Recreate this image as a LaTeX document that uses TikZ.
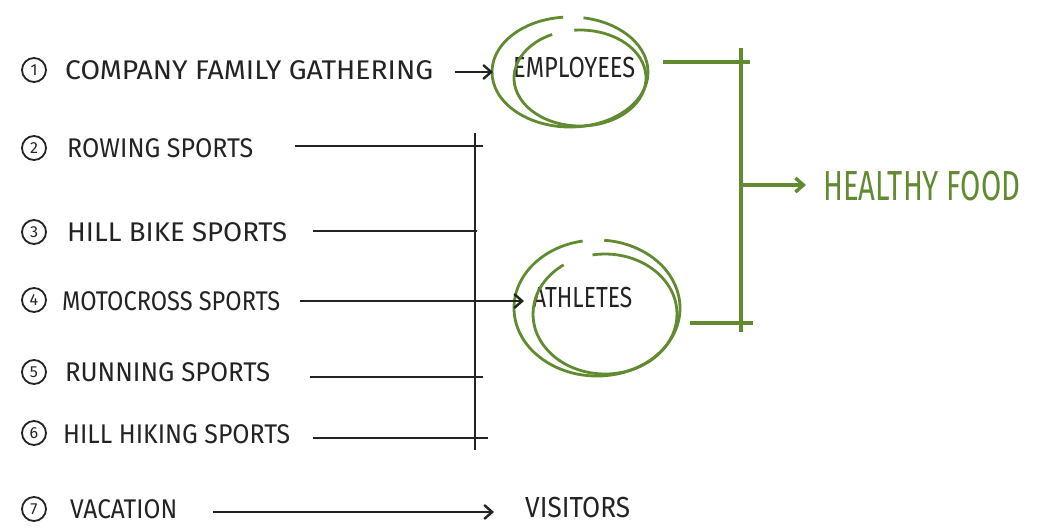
\documentclass[tikz,border=0pt]{standalone}
\usepackage{fontspec}
\setmainfont{Fira Sans}
\usepackage{graphicx}
\usetikzlibrary{arrows.meta}
\definecolor{leaf}{RGB}{98,138,48}
\definecolor{pen}{RGB}{35,35,35}
% set a label to a given width while keeping its natural height
\newcommand\fitw[2]{\resizebox{#1}{\height}{#2}}
\begin{document}
\begin{tikzpicture}[x=1pt,y=-1pt,
  item/.style={anchor=west, inner sep=0pt, text=pen, font=\fontsize{27}{28}\selectfont},
  num/.style={circle, draw=pen, line width=1.8pt, inner sep=0pt, minimum size=24pt,
              text=pen, font=\fontsize{16}{16}\selectfont},
  ink/.style={line width=2.4pt, draw=pen},
  grn/.style={line width=3.4pt, draw=leaf},
  loop/.style={line width=2.8pt, draw=leaf},
  tip/.style={-{Straight Barb[length=8pt,width=14pt]}},
  goal/.style={anchor=west, inner sep=0pt, text=pen, font=\fontsize{29}{30}\selectfont}]
\useasboundingbox[fill=white] (0,0) rectangle (1043,527);

% numbered activities
\node[num] (n1) at (34,70) {1};
\node[num] (n2) at (34,148) {2};
\node[num] (n3) at (34,232) {3};
\node[num] (n4) at (34,300) {4};
\node[num] (n5) at (34,372) {5};
\node[num] (n6) at (34,433) {6};
\node[num] (n7) at (34,509) {7};

\node[item] (t1) at (65,70)  {\fitw{368pt}{COMPANY FAMILY GATHERING}};
\node[item] (t2) at (67,148) {\fitw{186pt}{ROWING SPORTS}};
\node[item] (t3) at (67,232) {\fitw{220pt}{HILL BIKE SPORTS}};
\node[item] (t4) at (62,301) {\fitw{218pt}{MOTOCROSS SPORTS}};
\node[item] (t5) at (65,372) {\fitw{205pt}{RUNNING SPORTS}};
\node[item] (t6) at (63,434) {\fitw{227pt}{HILL HIKING SPORTS}};
\node[item] (t7) at (70,509) {\fitw{107pt}{VACATION}};

% target groups
\node[goal] (emp) at (513,68)  {\fitw{122pt}{EMPLOYEES}};
\node[goal] (ath) at (533,298) {\fitw{99pt}{ATHLETES}};
\node[goal] (vis) at (525,508) {\fitw{105pt}{VISITORS}};
\node[anchor=west, inner sep=0pt, text=leaf, font=\fontsize{42}{44}\selectfont]
     (food) at (823,186) {\fitw{197pt}{HEALTHY FOOD}};

% hand-drawn loops around the target groups
\coordinate (ec) at (570,72);
\coordinate (ec2) at (580,78);
\draw[loop] ([shift={(95:78pt and 55pt)}]ec) arc[start angle=95, end angle=440, x radius=78pt, y radius=55pt];
\draw[loop] ([shift={(115:66pt and 48pt)}]ec2) arc[start angle=115, end angle=455, x radius=66pt, y radius=48pt];
\coordinate (ac) at (597,308);
\coordinate (ac2) at (605,314);
\draw[loop] ([shift={(100:83pt and 68pt)}]ac) arc[start angle=100, end angle=445, x radius=83pt, y radius=68pt];
\draw[loop] ([shift={(125:72pt and 60pt)}]ac2) arc[start angle=125, end angle=460, x radius=72pt, y radius=60pt];

% activity connectors and the sports bus
\coordinate (s1) at (455,72);  \coordinate (e1) at (493,72);
\coordinate (s2) at (295,146); \coordinate (e2) at (483,146);
\coordinate (s3) at (313,231); \coordinate (e3) at (477,231);
\coordinate (s4) at (300,301); \coordinate (e4) at (524,301);
\coordinate (s5) at (310,377); \coordinate (e5) at (483,377);
\coordinate (s6) at (313,438); \coordinate (e6) at (488,438);
\coordinate (s7) at (213,512); \coordinate (e7) at (494,512);
\coordinate (busT) at (475,133); \coordinate (busB) at (475,450);

\draw[ink,tip] (s1) -- (e1);
\draw[ink] (s2) -- (e2);
\draw[ink] (s3) -- (e3);
\draw[ink,tip] (s4) -- (e4);
\draw[ink] (s5) -- (e5);
\draw[ink] (s6) -- (e6);
\draw[ink,tip] (s7) -- (e7);
\draw[ink] (busT) -- (busB);

% both groups lead to healthy food
\coordinate (g1) at (663,62);  \coordinate (g1e) at (750,62);
\coordinate (g2) at (690,323); \coordinate (g2e) at (753,323);
\coordinate (gT) at (741,48);  \coordinate (gB) at (741,332);
\coordinate (gM) at (741,185); \coordinate (gA) at (806,185);
\draw[grn] (g1) -- (g1e);
\draw[grn] (g2) -- (g2e);
\draw[grn] (gT) -- (gB);
\draw[grn,tip] (gM) -- (gA);
\end{tikzpicture}
\end{document}
